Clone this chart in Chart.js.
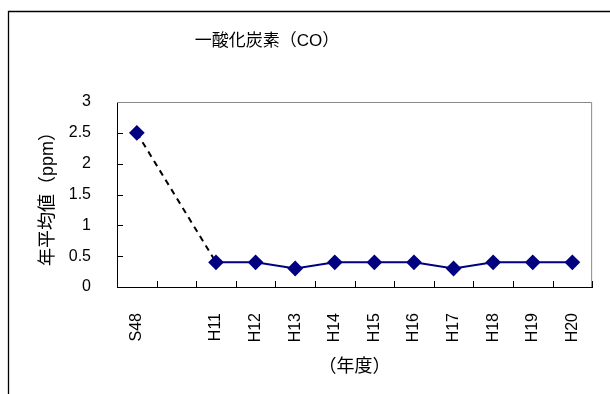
<!DOCTYPE html>
<html lang="ja">
<head>
  <meta charset="UTF-8" />
  <title>一酸化炭素（CO）</title>
  <script src="https://cdn.jsdelivr.net/npm/chart.js"></script>
  <style>
    body {
      margin: 0;
      background: #ffffff;
    }

    .chart-box {
      width: 610px;
      height: 394px;
    }
  </style>
</head>
<body>
  <div class="chart-box"><canvas id="coChart"></canvas></div>

  <script>
    // 年度 (blank slot between S48 and H11)
    const years = ['S48', '', 'H11', 'H12', 'H13', 'H14', 'H15', 'H16', 'H17', 'H18', 'H19', 'H20'];
    // 年平均値 (ppm)
    const coValues = [2.5, null, 0.4, 0.4, 0.3, 0.4, 0.4, 0.4, 0.3, 0.4, 0.4, 0.4];
    const yMax = 3;
    const yStep = 0.5;

    const fontFamily = "'Liberation Sans', 'Noto Sans CJK JP', sans-serif";
    const labelFont = { family: fontFamily, size: 16 };
    const titleFont = { family: fontFamily, size: 18 };
    const navy = '#000080';

    // white background, outer frame, grey top/right plot border, inner tick marks
    const framePlugin = {
      id: 'frame',
      beforeDraw(chart) {
        const ctx = chart.ctx;
        ctx.save();
        ctx.fillStyle = '#ffffff';
        ctx.fillRect(0, 0, chart.width, chart.height);
        ctx.strokeStyle = '#000000';
        ctx.lineWidth = 1.3;
        ctx.beginPath();
        ctx.moveTo(8.5, chart.height + 2);
        ctx.lineTo(8.5, 11.5);
        ctx.lineTo(chart.width + 2, 11.5);
        ctx.stroke();
        ctx.restore();
      },
      afterDraw(chart) {
        const ctx = chart.ctx;
        const area = chart.chartArea;
        const x = chart.scales.x;
        const y = chart.scales.y;
        ctx.save();
        ctx.strokeStyle = '#888888';
        ctx.lineWidth = 1;
        ctx.beginPath();
        ctx.moveTo(area.left, area.top + 0.5);
        ctx.lineTo(area.right - 0.5, area.top + 0.5);
        ctx.lineTo(area.right - 0.5, area.bottom);
        ctx.stroke();

        ctx.strokeStyle = '#000000';
        ctx.beginPath();
        const slot = (x.right - x.left) / years.length;
        for (let i = 1; i <= years.length; i++) {
          const px = Math.round(x.left + i * slot) + 0.5;
          ctx.moveTo(px, area.bottom);
          ctx.lineTo(px, area.bottom - 6);
        }
        for (let v = yStep; v < yMax; v += yStep) {
          const py = Math.round(y.getPixelForValue(v)) + 0.5;
          ctx.moveTo(area.left, py);
          ctx.lineTo(area.left + 6, py);
        }
        ctx.stroke();

        ctx.fillStyle = '#000000';
        ctx.font = "17px " + fontFamily;
        ctx.textAlign = 'center';
        ctx.textBaseline = 'middle';
        ctx.fillText('一酸化炭素（CO）', 267, 41);
        ctx.restore();
      }
    };

    new Chart(document.getElementById('coChart'), {
      type: 'line',
      data: {
        labels: years,
        datasets: [{
          label: '一酸化炭素',
          data: coValues,
          spanGaps: true,
          borderColor: navy,
          borderWidth: 2,
          pointStyle: 'rectRot',
          pointRadius: 6.5,
          pointBackgroundColor: navy,
          pointBorderColor: navy,
          tension: 0,
          // the stretch that jumps over the missing years is dashed black
          segment: {
            borderColor: c => coValues[c.p0DataIndex] === null ? '#000000' : undefined,
            borderDash: c => coValues[c.p0DataIndex] === null ? [6, 5] : undefined
          }
        }]
      },
      options: {
        responsive: true,
        maintainAspectRatio: false,
        animation: false,
        layout: { padding: { top: 102, right: 11, left: 0, bottom: 0 } },
        plugins: {
          legend: { display: false },
          tooltip: { enabled: false }
        },
        scales: {
          x: {
            offset: true,
            grid: { display: false },
            border: { color: '#000000', width: 1 },
            ticks: {
              autoSkip: false,
              minRotation: 90,
              maxRotation: 90,
              padding: 18,
              color: '#000000',
              font: labelFont
            },
            title: {
              display: true,
              text: '（年度）',
              color: '#000000',
              font: titleFont,
              padding: { top: 0, bottom: 16 }
            },
            afterFit(scale) { scale.height = 107; }
          },
          y: {
            min: 0,
            max: yMax,
            grid: { display: false },
            border: { color: '#000000', width: 1 },
            ticks: {
              stepSize: yStep,
              padding: 18,
              color: '#000000',
              font: labelFont,
              callback: v => String(v)
            },
            title: {
              display: true,
              text: '年平均値（ppm）',
              color: '#000000',
              font: titleFont,
              padding: { top: 37, bottom: 0 }
            },
            afterFit(scale) { scale.width = 117; }
          }
        }
      },
      plugins: [framePlugin]
    });
  </script>
</body>
</html>
